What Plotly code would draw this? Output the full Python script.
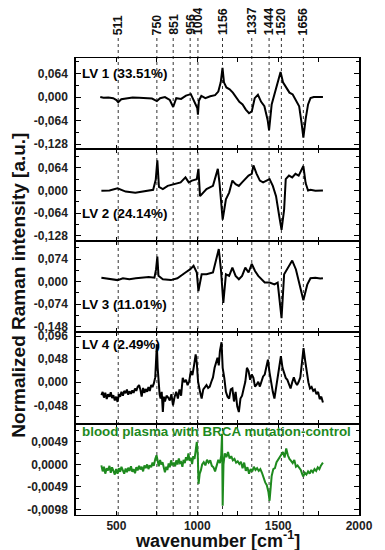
import plotly.graph_objects as go
from plotly.subplots import make_subplots

# ---------------- data ----------------
band_positions = [511, 750, 851, 956, 1004, 1156, 1337, 1444, 1520, 1656]
band_labels = ["511", "750", "851", "956", "1004", "1156", "1337", "1444", "1520", "1656"]

lv1_wn = [400, 420, 450, 480, 500, 511, 530, 560, 600, 640, 680, 720, 750, 770, 800, 830, 851, 870, 900,
          930, 960, 980, 1000, 1004, 1010, 1025, 1050, 1080, 1110, 1130, 1145, 1156, 1165, 1180, 1200,
          1220, 1240, 1260, 1280, 1300, 1320, 1337, 1355, 1375, 1395, 1415, 1435, 1444, 1460, 1480, 1500,
          1515, 1530, 1550, 1570, 1590, 1610, 1630, 1645, 1656, 1670, 1685, 1700, 1720, 1750, 1777]
lv1_val = [0.000, -0.002, -0.001, -0.003, -0.008, -0.014, -0.006, -0.003, -0.001, -0.002, -0.003, -0.004,
           -0.011, -0.003, 0.000, -0.008, -0.027, -0.003, -0.005, 0.004, 0.008, -0.010, -0.030, -0.048,
           -0.010, 0.003, -0.003, 0.002, 0.005, 0.015, 0.040, 0.079, 0.040, 0.026, 0.021, 0.012, 0.000,
           -0.013, -0.020, -0.034, -0.044, -0.039, -0.003, 0.006, -0.013, -0.025, -0.062, -0.090, -0.020,
           0.012, 0.040, 0.068, 0.040, 0.026, 0.012, 0.007, -0.010, -0.025, -0.071, -0.110, -0.060, -0.020,
           -0.003, 0.000, 0.000, 0.000]

lv2_wn = [407, 457, 507, 557, 617, 677, 727, 743, 753, 763, 787, 817, 857, 897, 927, 947, 967, 997, 1007,
          1017, 1057, 1097, 1127, 1137, 1157, 1177, 1197, 1217, 1237, 1257, 1277, 1297, 1317, 1337, 1347,
          1367, 1387, 1407, 1427, 1447, 1467, 1487, 1507, 1521, 1537, 1547, 1567, 1587, 1607, 1627, 1656,
          1670, 1685, 1700, 1730, 1777]
lv2_val = [-0.001, 0.000, 0.006, -0.003, -0.006, -0.002, 0.002, 0.030, 0.085, 0.010, 0.004, 0.013, 0.018,
           0.023, 0.037, 0.023, 0.028, 0.032, 0.061, -0.016, 0.004, 0.013, 0.061, 0.023, -0.082, -0.025,
           -0.006, 0.028, 0.018, 0.013, 0.023, 0.032, 0.042, 0.047, 0.071, 0.047, 0.028, 0.023, 0.028, 0.032,
           0.013, -0.016, -0.073, -0.111, -0.054, 0.032, 0.042, 0.037, 0.047, 0.042, 0.069, 0.021, 0.000,
           0.002, -0.001, 0.000]

lv3_wn = [407, 440, 470, 507, 540, 580, 620, 660, 700, 735, 745, 753, 760, 787, 837, 877, 907, 927, 957,
          977, 997, 1007, 1027, 1057, 1097, 1117, 1133, 1147, 1161, 1177, 1197, 1217, 1237, 1257, 1277, 1297,
          1317, 1337, 1357, 1377, 1397, 1417, 1447, 1477, 1497, 1510, 1521, 1537, 1557, 1587, 1610, 1630,
          1656, 1680, 1700, 1730, 1760, 1777]
lv3_val = [0.013, 0.010, 0.008, 0.005, 0.011, 0.008, 0.011, 0.013, 0.015, 0.013, 0.040, 0.082, 0.019, 0.008,
           0.005, 0.011, 0.024, 0.030, 0.041, 0.052, 0.030, -0.031, 0.024, 0.024, 0.030, 0.069, 0.107, 0.035,
           -0.070, 0.024, 0.019, 0.046, 0.019, 0.008, 0.019, 0.046, 0.030, 0.058, 0.035, 0.019, 0.008, -0.003,
           -0.003, -0.009, -0.003, -0.060, -0.120, 0.024, 0.041, 0.069, 0.040, 0.000, -0.061, -0.010, 0.011,
           0.013, 0.010, 0.011]

lv4_wn = [407, 415, 423, 431, 440, 448, 457, 465, 473, 481, 490, 498, 507, 515, 523, 531, 540, 548, 557, 565,
          573, 581, 590, 598, 606, 615, 623, 631, 640, 648, 656, 665, 673, 681, 690, 698, 706, 715, 723, 731,
          740, 745, 750, 755, 760, 767, 773, 780, 787, 793, 800, 810, 820, 830, 840, 850, 860, 870, 880, 890,
          900, 910, 920, 930, 940, 950, 960, 970, 980, 990, 997, 1005, 1017, 1027, 1037, 1047, 1057, 1067,
          1077, 1087, 1097, 1107, 1117, 1125, 1133, 1140, 1150, 1157, 1167, 1177, 1187, 1197, 1207, 1217,
          1227, 1237, 1247, 1257, 1267, 1277, 1287, 1297, 1307, 1317, 1327, 1337, 1347, 1357, 1367, 1377,
          1387, 1397, 1407, 1417, 1427, 1437, 1447, 1457, 1467, 1477, 1487, 1497, 1507, 1517, 1527, 1537,
          1547, 1557, 1567, 1577, 1587, 1597, 1607, 1617, 1627, 1637, 1647, 1657, 1667, 1677, 1687, 1697,
          1707, 1717, 1727, 1737, 1747, 1757, 1767, 1777]
lv4_val = [-0.027, -0.020, -0.032, -0.022, -0.035, -0.025, -0.030, -0.021, -0.033, -0.027, -0.038, -0.030,
           -0.041, -0.025, -0.030, -0.020, -0.028, -0.018, -0.023, -0.015, -0.026, -0.019, -0.024, -0.017,
           -0.022, -0.013, -0.018, -0.010, -0.006, -0.015, -0.030, -0.012, -0.022, -0.014, -0.020, -0.010,
           -0.018, -0.006, -0.010, -0.003, 0.010, 0.040, 0.079, 0.030, -0.006, -0.025, -0.034, -0.020,
           -0.062, -0.030, -0.040, -0.028, -0.032, -0.038, -0.025, -0.048, -0.030, -0.020, -0.034, -0.015,
           -0.028, 0.009, 0.000, 0.005, -0.006, 0.002, 0.023, 0.015, 0.035, 0.058, 0.040, 0.001, -0.020,
           -0.034, -0.015, -0.010, -0.006, -0.012, -0.009, 0.001, 0.010, 0.030, 0.040, 0.051, 0.035, 0.065,
           0.083, 0.030, 0.009, -0.020, -0.030, -0.034, -0.015, -0.013, -0.040, -0.020, -0.050, -0.062,
           -0.034, -0.028, -0.013, 0.001, 0.030, 0.023, 0.005, 0.016, 0.009, -0.009, -0.005, 0.001, -0.009,
           0.000, 0.012, 0.016, 0.030, 0.047, 0.020, -0.006, -0.020, -0.034, -0.010, 0.016, 0.035, 0.054,
           0.030, 0.020, 0.009, 0.005, -0.006, -0.013, 0.000, 0.010, 0.000, -0.006, 0.001, 0.010, 0.040,
           0.071, 0.045, 0.021, 0.000, -0.013, -0.010, -0.018, -0.015, -0.025, -0.020, -0.035, -0.030, -0.042]

diff_wn = [407, 415, 423, 431, 440, 448, 457, 465, 473, 481, 490, 498, 507, 515, 523, 531, 540, 548, 557, 565,
           573, 581, 590, 598, 606, 615, 623, 631, 640, 648, 656, 665, 673, 681, 690, 698, 706, 715, 723, 731,
           740, 748, 755, 762, 770, 777, 785, 793, 800, 808, 815, 823, 830, 838, 846, 855, 863, 870, 878, 886,
           893, 900, 908, 915, 923, 930, 938, 945, 953, 960, 968, 975, 983, 990, 997, 1003, 1008, 1015, 1022,
           1030, 1040, 1050, 1060, 1070, 1080, 1090, 1100, 1110, 1120, 1130, 1140, 1148, 1153, 1157, 1162,
           1170, 1180, 1190, 1200, 1210, 1220, 1230, 1240, 1250, 1260, 1270, 1280, 1290, 1300, 1310, 1320,
           1330, 1340, 1350, 1360, 1370, 1380, 1390, 1400, 1410, 1420, 1430, 1440, 1447, 1453, 1460, 1470,
           1480, 1490, 1500, 1510, 1520, 1530, 1540, 1550, 1560, 1570, 1580, 1590, 1600, 1610, 1620, 1630,
           1640, 1650, 1656, 1665, 1675, 1685, 1695, 1705, 1715, 1725, 1735, 1745, 1755, 1765, 1777]
diff_val = [-0.0002, -0.0015, -0.0005, -0.0020, -0.0008, -0.0013, -0.0003, -0.0018, -0.0006, -0.0012, -0.0022,
            -0.0010, -0.0020, -0.0008, -0.0016, -0.0005, -0.0012, -0.0020, -0.0009, -0.0017, -0.0007, -0.0014,
            -0.0004, -0.0016, -0.0010, -0.0019, -0.0006, -0.0013, -0.0003, -0.0011, -0.0005, -0.0015, -0.0002,
            -0.0008, 0.0000, -0.0010, -0.0002, -0.0006, 0.0004, -0.0003, 0.0012, 0.0020, 0.0008, -0.0004,
            0.0010, 0.0000, 0.0005, -0.0008, -0.0017, -0.0005, -0.0012, 0.0002, -0.0006, 0.0009, -0.0002,
            0.0004, -0.0004, 0.0009, 0.0000, 0.0013, 0.0003, 0.0005, -0.0005, 0.0010, 0.0003, 0.0016, 0.0009,
            0.0024, 0.0008, 0.0015, 0.0001, 0.0018, 0.0012, 0.0030, 0.0049, 0.0020, -0.0042, -0.0020, -0.0013,
            0.0000, 0.0005, -0.0002, 0.0010, 0.0004, 0.0009, -0.0003, -0.0006, -0.0015, -0.0002, 0.0010,
            0.0003, 0.0020, 0.0067, -0.0090, 0.0000, 0.0024, 0.0016, 0.0027, 0.0013, 0.0018, 0.0009, 0.0012,
            0.0004, 0.0007, 0.0001, 0.0006, -0.0008, 0.0004, -0.0014, -0.0006, -0.0020, -0.0010, -0.0015,
            -0.0005, -0.0012, -0.0008, -0.0014, -0.0010, -0.0018, -0.0030, -0.0039, -0.0045, -0.0060, -0.0079,
            -0.0050, -0.0025, -0.0010, -0.0008, 0.0005, 0.0010, 0.0016, 0.0020, 0.0027, 0.0015, 0.0035,
            0.0020, 0.0012, 0.0008, 0.0003, 0.0010, -0.0005, -0.0002, -0.0008, -0.0012, -0.0022, -0.0026,
            -0.0018, -0.0022, -0.0015, -0.0020, -0.0012, -0.0017, -0.0010, -0.0014, -0.0006, -0.0010, -0.0002,
            0.0004]

panel_labels = ["LV 1 (33.51%)", "LV 2 (24.14%)", "LV 3 (11.01%)", "LV 4 (2.49%)",
                "blood plasma with BRCA mutation-control"]

y_tickvals = [[-0.128, -0.064, 0.0, 0.064],
              [-0.128, -0.064, 0.0, 0.064],
              [-0.148, -0.074, 0.0, 0.074],
              [-0.048, 0.0, 0.048, 0.096],
              [-0.0098, -0.0049, 0.0, 0.0049]]
y_ticktext = [["-0,128", "-0,064", "0,000", "0,064"],
              ["-0,128", "-0,064", "0,000", "0,064"],
              ["-0,148", "-0,074", "0,000", "0,074"],
              ["-0,048", "0,000", "0,048", "0,096"],
              ["-0,0098", "-0,0049", "0,0000", "0,0049"]]
x_tickvals = [250, 500, 750, 1000, 1250, 1500, 1750, 2000]
x_ticktext = ["", "500", "", "1000", "", "1500", "", "2000"]

# ---------------- styling ----------------
y_ranges = [[-0.142, 0.106], [-0.142, 0.116], [-0.166, 0.134], [-0.086, 0.104], [-0.0110, 0.0089]]
y_minor = [0.032, 0.032, 0.037, 0.024, 0.00245]
label_pos = [0.064, -0.064, -0.074, 0.078, 0.0072]
FONT = "Liberation Sans, Arial, sans-serif"
GREEN = "#1e8a1e"

series = [(lv1_wn, lv1_val, "black"), (lv2_wn, lv2_val, "black"), (lv3_wn, lv3_val, "black"),
          (lv4_wn, lv4_val, "black"), (diff_wn, diff_val, GREEN)]

fig = make_subplots(rows=5, cols=1, shared_xaxes=True, vertical_spacing=0)

for i, (xs, ys, col) in enumerate(series):
    fig.add_trace(go.Scatter(x=xs, y=ys, mode="lines", line=dict(color=col, width=2),
                             showlegend=False, hoverinfo="skip"), row=i + 1, col=1)
    fig.update_yaxes(range=y_ranges[i], tickmode="array", tickvals=y_tickvals[i], ticktext=y_ticktext[i],
                     ticks="inside", ticklen=5, tickwidth=1.2, tickcolor="black",
                     minor=dict(tickmode="linear", tick0=0, dtick=y_minor[i], ticks="inside", ticklen=3,
                                tickcolor="black", tickwidth=1),
                     showline=True, linecolor="black", linewidth=1.5, mirror="ticks",
                     showgrid=False, zeroline=False, ticklabelstandoff=4,
                     tickfont=dict(family=FONT, size=12, color="#222", weight="bold"),
                     row=i + 1, col=1)
    fig.update_xaxes(range=[250, 2000], tickmode="array", tickvals=x_tickvals, ticktext=x_ticktext,
                     ticks="inside", ticklen=4, tickwidth=1.2, tickcolor="black",
                     showline=True, linecolor="black", linewidth=1, mirror="ticks",
                     showgrid=False, zeroline=False, showticklabels=(i == 4),
                     tickfont=dict(family=FONT, size=12, color="#222", weight="bold"),
                     row=i + 1, col=1)
    fig.add_annotation(x=0.015, xref="paper", y=label_pos[i], yref="y" if i == 0 else "y%d" % (i + 1),
                       text=panel_labels[i], showarrow=False, xanchor="left", yanchor="middle",
                       font=dict(family=FONT, size=13.4, weight="bold", color=col))

# vertical dotted band lines and their labels
for pos, lab in zip(band_positions, band_labels):
    fig.add_shape(type="line", xref="x5", yref="paper", x0=pos, x1=pos, y0=0, y1=1.0445,
                  line=dict(color="#333", width=1, dash="dot"), layer="below")
    fig.add_annotation(x=pos, xref="x5", y=1.048, yref="paper", text=lab, textangle=-90,
                       showarrow=False, xanchor="center", yanchor="bottom", borderpad=0,
                       font=dict(family=FONT, size=12.3, weight="bold", color="#111"))

fig.add_annotation(x=-0.203, xref="paper", y=0.503, yref="paper", text="Normalized Raman intensity [a.u.]",
                   textangle=-90, showarrow=False, xanchor="center", yanchor="middle",
                   font=dict(family=FONT, size=19, weight="bold", color="#111"))
fig.add_annotation(x=0.5, xref="paper", y=-0.054, yref="paper", text="wavenumber [cm<sup>-1</sup>]",
                   showarrow=False, xanchor="center", yanchor="middle", borderpad=0,
                   font=dict(family=FONT, size=18, weight="bold", color="#111"))

# the page body keeps its default 8px margin, so the figure is sized to place the plot area where the reference has it
fig.update_layout(width=377, height=542, margin=dict(l=68, r=16, t=50, b=35),
                  paper_bgcolor="white", plot_bgcolor="rgba(0,0,0,0)", showlegend=False)

fig.write_html("out.html")
